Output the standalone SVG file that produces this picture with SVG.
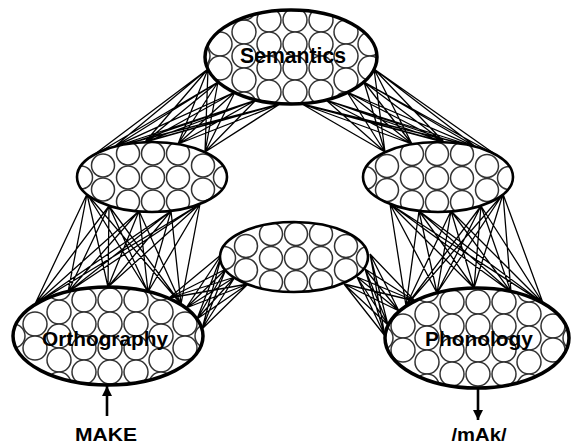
<svg xmlns="http://www.w3.org/2000/svg" xmlns:xlink="http://www.w3.org/1999/xlink" width="571" height="446" viewBox="0 0 571 446">
<style>
.cn path{fill:none;stroke:#000;stroke-width:1.3}
.bg{fill:#fff;stroke:none}
.ob{fill:none;stroke:#000;stroke-width:3.5}
.os{fill:none;stroke:#000;stroke-width:2.6}
.cir circle{fill:#fff;stroke:#333;stroke-width:1.5}
.lbl{font-family:"Liberation Sans",Arial,sans-serif;font-weight:bold;fill:#000;text-anchor:middle}
.arr{stroke:#000;stroke-width:2.6;fill:none}
</style>
<defs>
<marker id="ah" viewBox="0 0 10 10" refX="10" refY="5" markerWidth="4" markerHeight="4.5" orient="auto" markerUnits="strokeWidth"><path d="M0 0L10 5L0 10z" fill="#000"/></marker>
<g id="sg" class="cir">
<circle cx="-25" cy="-24" r="11.5"/><circle cx="0" cy="-24" r="11.5"/><circle cx="25" cy="-24" r="11.5"/>
<circle cx="-25" cy="0" r="11.5"/><circle cx="0" cy="0" r="11.5"/><circle cx="25" cy="0" r="11.5"/>
<circle cx="-25" cy="24" r="11.5"/><circle cx="0" cy="24" r="11.5"/><circle cx="25" cy="24" r="11.5"/>
<circle cx="-50" cy="-12" r="11.5"/><circle cx="-50" cy="12" r="11.5"/><circle cx="50" cy="-12" r="11.5"/><circle cx="50" cy="12" r="11.5"/>
<circle cx="-72" cy="0" r="11.5"/><circle cx="72" cy="0" r="11.5"/>
</g>
<g id="bg" class="cir">
<circle cx="-26" cy="-36" r="12"/><circle cx="0" cy="-36" r="12"/><circle cx="26" cy="-36" r="12"/>
<circle cx="-26" cy="-12" r="12"/><circle cx="0" cy="-12" r="12"/><circle cx="26" cy="-12" r="12"/>
<circle cx="-26" cy="12" r="12"/><circle cx="0" cy="12" r="12"/><circle cx="26" cy="12" r="12"/>
<circle cx="-26" cy="36" r="12"/><circle cx="0" cy="36" r="12"/><circle cx="26" cy="36" r="12"/>
<circle cx="-51" cy="-24" r="12"/><circle cx="-51" cy="0" r="12"/><circle cx="-51" cy="24" r="12"/>
<circle cx="51" cy="-24" r="12"/><circle cx="51" cy="0" r="12"/><circle cx="51" cy="24" r="12"/>
<circle cx="-51" cy="-48" r="12"/><circle cx="51" cy="-48" r="12"/><circle cx="-51" cy="48" r="12"/><circle cx="51" cy="48" r="12"/>
<circle cx="-75" cy="-12" r="12"/><circle cx="-75" cy="12" r="12"/><circle cx="75" cy="-12" r="12"/><circle cx="75" cy="12" r="12"/>
<circle cx="-97" cy="0" r="12"/><circle cx="97" cy="0" r="12"/>
</g>
<clipPath id="cS"><ellipse cx="291" cy="57" rx="86" ry="47"/></clipPath>
<clipPath id="cL"><ellipse cx="152" cy="177" rx="75" ry="35"/></clipPath>
<clipPath id="cR"><ellipse cx="438" cy="177" rx="75" ry="35"/></clipPath>
<clipPath id="cM"><ellipse cx="294" cy="257" rx="74" ry="35"/></clipPath>
<clipPath id="cO"><ellipse cx="108" cy="336" rx="95" ry="49"/></clipPath>
<clipPath id="cP"><ellipse cx="477" cy="338" rx="92" ry="50"/></clipPath>
</defs>

<g id="connectors" class="cn">
<path d="M208 69L91 157M208 69L114 147M208 69L145 142M208 69L178 144M208 69L205 152M218 82L91 157M218 82L114 147M218 82L145 142M218 82L178 144M218 82L205 152M235 92L91 157M235 92L114 147M235 92L145 142M235 92L178 144M235 92L205 152M256 100L91 157M256 100L114 147M256 100L145 142M256 100L178 144M256 100L205 152M280 104L91 157M280 104L114 147M280 104L145 142M280 104L178 144M280 104L205 152"/>
<path d="M374 69L499 157M374 69L476 147M374 69L444 142M374 69L412 144M374 69L385 152M364 82L499 157M364 82L476 147M364 82L444 142M364 82L412 144M364 82L385 152M347 92L499 157M347 92L476 147M347 92L444 142M347 92L412 144M347 92L385 152M326 100L499 157M326 100L476 147M326 100L444 142M326 100L412 144M326 100L385 152M302 104L499 157M302 104L476 147M302 104L444 142M302 104L412 144M302 104L385 152"/>
<path d="M87 194L35 304M87 194L68 292M87 194L108 287M87 194L148 292M87 194L181 304M109 206L35 304M109 206L68 292M109 206L108 287M109 206L148 292M109 206L181 304M139 211L35 304M139 211L68 292M139 211L108 287M139 211L148 292M139 211L181 304M171 211L35 304M171 211L68 292M171 211L108 287M171 211L148 292M171 211L181 304M200 204L35 304M200 204L68 292M200 204L108 287M200 204L148 292M200 204L181 304"/>
<path d="M390 204L406 306M390 204L437 293M390 204L474 288M390 204L511 292M390 204L543 303M419 211L406 306M419 211L437 293M419 211L474 288M419 211L511 292M419 211L543 303M451 211L406 306M451 211L437 293M451 211L474 288M451 211L511 292M451 211L543 303M481 206L406 306M481 206L437 293M481 206L474 288M481 206L511 292M481 206L543 303M503 194L406 306M503 194L437 293M503 194L474 288M503 194L511 292M503 194L543 303"/>
<path d="M169 298L222 254M169 298L226 269M169 298L235 277M169 298L248 284M186 308L222 254M186 308L226 269M186 308L235 277M186 308L248 284M197 319L222 254M197 319L226 269M197 319L235 277M197 319L248 284M202 329L222 254M202 329L226 269M202 329L235 277M202 329L248 284"/>
<path d="M370 254L415 301M370 254L399 311M370 254L388 325M370 254L385 336M365 269L415 301M365 269L399 311M365 269L388 325M365 269L385 336M357 277L415 301M357 277L399 311M357 277L388 325M357 277L385 336M344 284L415 301M344 284L399 311M344 284L388 325M344 284L385 336"/>
<line class="arr" x1="107" y1="416" x2="107" y2="386" marker-end="url(#ah)"/>
<line class="arr" x1="478" y1="389" x2="478" y2="420" marker-end="url(#ah)"/>
</g>

<g id="semantics">
<ellipse class="bg" cx="291" cy="57" rx="86" ry="47"/>
<g clip-path="url(#cS)"><use xlink:href="#bg" x="295" y="56"/></g>
<ellipse class="ob" cx="291" cy="57" rx="86" ry="47"/>
<text class="lbl" x="293" y="63" font-size="22" textLength="106" lengthAdjust="spacingAndGlyphs">Semantics</text>
</g>

<g id="hidden-left">
<ellipse class="bg" cx="152" cy="177" rx="75" ry="35"/>
<g clip-path="url(#cL)"><use xlink:href="#sg" x="153" y="177.5"/></g>
<ellipse class="os" cx="152" cy="177" rx="75" ry="35"/>
</g>

<g id="hidden-right">
<ellipse class="bg" cx="438" cy="177" rx="75" ry="35"/>
<g clip-path="url(#cR)"><use xlink:href="#sg" x="437" y="178"/></g>
<ellipse class="os" cx="438" cy="177" rx="75" ry="35"/>
</g>

<g id="hidden-middle">
<ellipse class="bg" cx="294" cy="257" rx="74" ry="35"/>
<g clip-path="url(#cM)"><use xlink:href="#sg" x="296" y="258"/></g>
<ellipse class="os" cx="294" cy="257" rx="74" ry="35"/>
</g>

<g id="orthography">
<ellipse class="bg" cx="108" cy="336" rx="95" ry="49"/>
<g clip-path="url(#cO)"><use xlink:href="#bg" x="110" y="336"/></g>
<ellipse class="ob" cx="108" cy="336" rx="95" ry="49"/>
<text class="lbl" x="105" y="346" font-size="21" textLength="126" lengthAdjust="spacingAndGlyphs">Orthography</text>
</g>

<g id="phonology">
<ellipse class="bg" cx="477" cy="338" rx="92" ry="50"/>
<g clip-path="url(#cP)"><use xlink:href="#bg" x="478" y="338"/></g>
<ellipse class="ob" cx="477" cy="338" rx="92" ry="50"/>
<text class="lbl" x="479" y="346" font-size="21" textLength="108" lengthAdjust="spacingAndGlyphs">Phonology</text>
</g>

<g id="input-label"><text class="lbl" x="106" y="441" font-size="19" textLength="62" lengthAdjust="spacingAndGlyphs">MAKE</text></g>
<g id="output-label"><text class="lbl" x="479" y="441" font-size="19" textLength="55" lengthAdjust="spacingAndGlyphs">/mAk/</text></g>
</svg>
